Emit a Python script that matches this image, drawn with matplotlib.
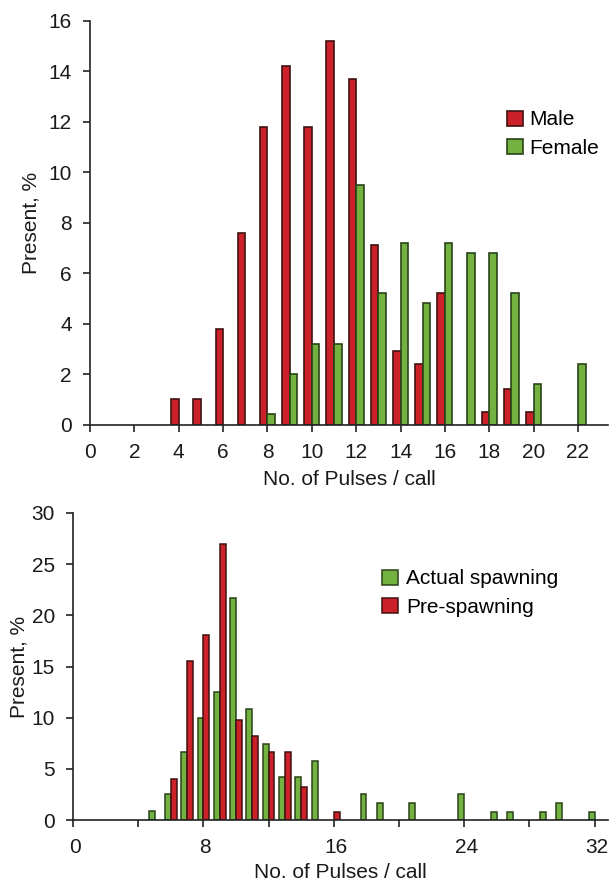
import matplotlib
matplotlib.use("Agg")
import numpy as np
import matplotlib.pyplot as plt
import matplotlib.transforms as mtransforms

plt.rcParams['font.family'] = ['Liberation Sans', 'DejaVu Sans']

# top panel: male / female
male_x = [4, 5, 6, 7, 8, 9, 10, 11, 12, 13, 14, 15, 16, 18, 19, 20]
male = [1.0, 1.0, 3.8, 7.6, 11.8, 14.2, 11.8, 15.2, 13.7, 7.1, 2.9, 2.4, 5.2, 0.5, 1.4, 0.5]
female_x = [8, 9, 10, 11, 12, 13, 14, 15, 16, 17, 18, 19, 20, 22]
female = [0.4, 2.0, 3.2, 3.2, 9.5, 5.2, 7.2, 4.8, 7.2, 6.8, 6.8, 5.2, 1.6, 2.4]
top_ticks = list(range(0, 23, 2))

# bottom panel: actual spawning / pre-spawning
actual_x = [5, 6, 7, 8, 9, 10, 11, 12, 13, 14, 15, 18, 19, 21, 24, 26, 27, 29, 30, 32]
actual = [0.9, 2.5, 6.6, 10.0, 12.5, 21.7, 10.8, 7.4, 4.2, 4.2, 5.8, 2.5, 1.7, 1.7, 2.5, 0.8, 0.8, 0.8, 1.7, 0.8]
pre_x = [6, 7, 8, 9, 10, 11, 12, 13, 14, 16]
pre = [4.0, 15.5, 18.1, 27.0, 9.8, 8.2, 6.6, 6.6, 3.2, 0.8]
bottom_ticks = list(range(0, 33, 4))
bottom_labels = ['0', '', '8', '', '16', '', '24', '', '32']

RED = '#cc2128'
RED_EDGE = '#3f1212'
GREEN = '#73b140'
GREEN_EDGE = '#2a4318'
FS = 15

W, H = 610, 881
fig = plt.figure(figsize=(W / 100, H / 100), dpi=100)


def style(ax):
    for s in ['top', 'right']:
        ax.spines[s].set_visible(False)
    for s in ['left', 'bottom']:
        ax.spines[s].set_linewidth(1.2)
        ax.spines[s].set_color('#222222')
    ax.tick_params(direction='out', length=5, width=1.2, color='#222222',
                   labelsize=FS, pad=8, labelcolor='#1a1a1a')


# top axes
ax1 = fig.add_axes([90 / W, 1 - 424.5 / H, 518 / W, 403.8 / H])
w = 0.34
ax1.bar(np.array(male_x) - w / 2, male, width=w, color=RED, edgecolor=RED_EDGE,
        linewidth=1.2, label='Male')
ax1.bar(np.array(female_x) + w / 2, female, width=w, color=GREEN, edgecolor=GREEN_EDGE,
        linewidth=1.2, label='Female')
ax1.set_xlim(0, 518 / 22.18)
ax1.set_ylim(0, 16)
ax1.set_xticks(top_ticks)
ax1.set_yticks(range(0, 17, 2))
style(ax1)
ax1.set_xlabel('No. of Pulses / call', fontsize=FS, labelpad=6, color='#1a1a1a')
ax1.set_ylabel('Present, %', fontsize=FS, labelpad=6, color='#1a1a1a')
ax1.legend(loc='upper left', bbox_to_anchor=(497 / W, 1 - 100 / H),
           bbox_transform=fig.transFigure, frameon=False, fontsize=FS,
           handlelength=0.75, handleheight=0.75, handletextpad=0.3,
           borderpad=0, labelspacing=0.45)

# bottom axes
ax2 = fig.add_axes([73 / W, 1 - 820 / H, 535 / W, 307 / H])
w2 = 0.36
ax2.bar(np.array(actual_x) - w2 / 2, actual, width=w2, color=GREEN, edgecolor=GREEN_EDGE,
        linewidth=1.1, label='Actual spawning')
ax2.bar(np.array(pre_x) + w2 / 2, pre, width=w2, color=RED, edgecolor=RED_EDGE,
        linewidth=1.1, label='Pre-spawning')
ax2.set_xlim(0, 535 / 16.3)
ax2.set_ylim(0, 30)
ax2.set_xticks(bottom_ticks)
ax2.set_xticklabels(bottom_labels)
ax2.set_yticks(range(0, 31, 5))
style(ax2)
# labels on the lower axis sit a little right of their ticks
shift = mtransforms.ScaledTranslation(2 / 100, 0, fig.dpi_scale_trans)
for lab in ax2.get_xticklabels():
    lab.set_transform(lab.get_transform() + shift)
ax2.set_xlabel('No. of Pulses / call', fontsize=FS, labelpad=4, color='#1a1a1a')
ax2.set_ylabel('Present, %', fontsize=FS, labelpad=2, color='#1a1a1a')
ax2.legend(loc='upper left', bbox_to_anchor=(372 / W, 1 - 559 / H),
           bbox_transform=fig.transFigure, frameon=False, fontsize=FS,
           handlelength=0.75, handleheight=0.75, handletextpad=0.4,
           borderpad=0, labelspacing=0.45)

fig.savefig('out.png', dpi=100)
